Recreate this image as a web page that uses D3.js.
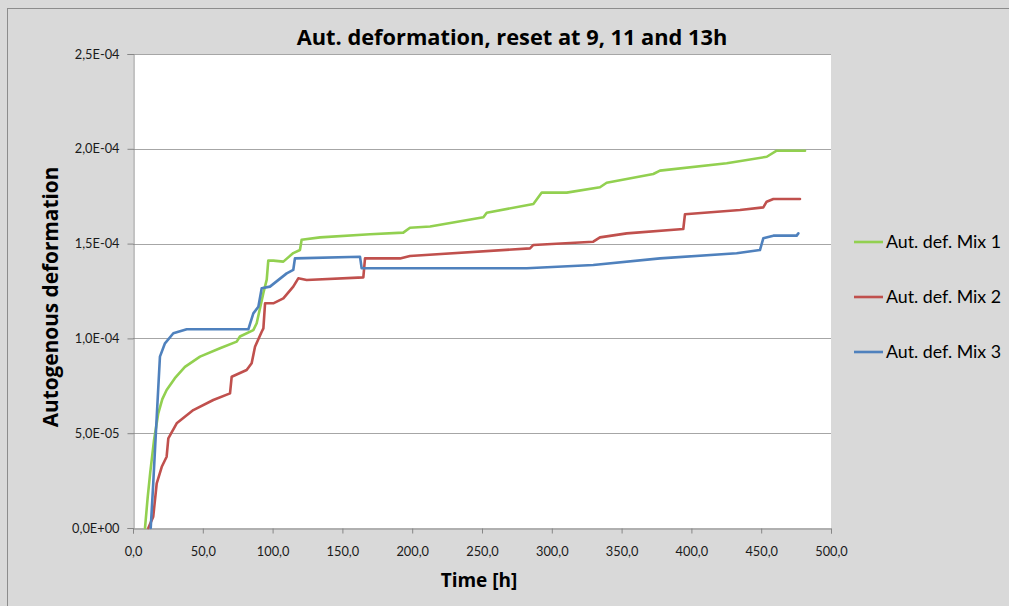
<!DOCTYPE html>
<html><head><meta charset="utf-8">
<script src="https://cdn.jsdelivr.net/npm/d3@7"></script>
<style>body{margin:0;background:#d9d9d9;} svg{display:block;}</style>
</head><body>
<svg id="chart" width="1009" height="606"></svg>
<script>
// ---- data (values in units of 1e-5) ----
const UNIT = 1e-5;
const seriesNames = ["Aut. def. Mix 1", "Aut. def. Mix 2", "Aut. def. Mix 3"];
const xTicks = [0, 50, 100, 150, 200, 250, 300, 350, 400, 450, 500];
const yTicks = [0, 5e-5, 1e-4, 1.5e-4, 2e-4, 2.5e-4];

const mix1T = [8.6, 10.5, 12.3, 15, 18.1, 21, 24.1, 30, 37.2, 48, 62.3, 74.3, 76.6, 86.2, 88.6, 93.4, 95.8, 96.9, 100.5, 107.7, 114.8, 119.6, 120.8, 134, 169.8, 193.6, 198.4, 212.8, 251, 253.4, 286.8, 292.8, 310.7, 334.5, 339.3, 372.7, 377.5, 425.3, 454, 461.1, 481.4];
const mix1V = [0, 1.6, 2.9, 4.6, 6.05, 6.8, 7.28, 7.9, 8.5, 9.04, 9.48, 9.83, 10.1, 10.44, 10.8, 12.4, 13.1, 14.1, 14.1, 14.05, 14.5, 14.66, 15.2, 15.33, 15.49, 15.58, 15.84, 15.9, 16.39, 16.63, 17.09, 17.69, 17.69, 17.97, 18.21, 18.67, 18.85, 19.24, 19.58, 19.9, 19.9];

const mix2T = [11, 14.5, 17, 20.6, 24.1, 25.3, 31.3, 43.2, 57.5, 69.5, 70.7, 81.4, 85, 87.4, 92.2, 93.4, 94.6, 100.5, 107.7, 114.8, 118.4, 124.4, 165, 166.2, 191.3, 198.4, 284.4, 286.8, 329.7, 334.5, 353.7, 394.2, 395.4, 434.8, 451.5, 453.9, 458.7, 477.8];
const mix2V = [0, 0.6, 2.36, 3.23, 3.76, 4.73, 5.52, 6.22, 6.75, 7.1, 7.98, 8.33, 8.69, 9.56, 10.35, 10.53, 11.85, 11.85, 12.11, 12.73, 13.17, 13.08, 13.22, 14.22, 14.22, 14.35, 14.75, 14.93, 15.1, 15.33, 15.54, 15.77, 16.55, 16.77, 16.91, 17.21, 17.35, 17.35];

const mix3T = [12.7, 14.5, 17, 19.3, 22.9, 28.9, 38.5, 82.6, 86.2, 89.8, 92.2, 98.1, 110.1, 114.8, 116, 162.6, 163.8, 282, 329.7, 377.5, 432.4, 449.1, 451.5, 458.7, 475.4, 476.6];
const mix3V = [0, 2.36, 5.87, 9.04, 9.74, 10.27, 10.48, 10.48, 11.32, 11.67, 12.64, 12.73, 13.43, 13.61, 14.22, 14.31, 13.7, 13.7, 13.87, 14.22, 14.49, 14.66, 15.28, 15.42, 15.42, 15.54];

const colors = ["#92d050", "#c0504d", "#4f81bd"];

// ---- layout ----
const svg = d3.select("#chart");
const L = 133, R = 831, T = 54, B = 528;
const FONT = "Lato, 'Open Sans', sans-serif";
const TFONT = "'Open Sans', Lato, sans-serif";

svg.append("rect").attr("x", 7.5).attr("y", 8.5).attr("width", 1020).attr("height", 620)
  .attr("fill", "#d9d9d9").attr("stroke", "#8c8c8c").attr("stroke-width", 1);

const x = d3.scaleLinear().domain([0, 500]).range([L, R]);
const y = d3.scaleLinear().domain([0, 2.5e-4]).range([B, T]);

svg.append("rect").attr("x", L).attr("y", T).attr("width", R - L).attr("height", B - T).attr("fill", "#ffffff");

// gridlines
svg.append("g").selectAll("line").data(yTicks.slice(1)).join("line")
  .attr("x1", L).attr("x2", R)
  .attr("y1", d => Math.round(y(d)) + 0.5).attr("y2", d => Math.round(y(d)) + 0.5)
  .attr("stroke", "#a6a6a6").attr("stroke-width", 1);

function fmtY(v) {
  const s = v.toExponential(1);
  const [m, e] = s.split("e");
  const ev = parseInt(e, 10);
  const es = (ev < 0 ? "-" : "+") + String(Math.abs(ev)).padStart(2, "0");
  return m.replace(".", ",") + "E" + es;
}
const fmtX = d => d.toFixed(1).replace(".", ",");

const yAxis = svg.append("g").attr("transform", `translate(${L + 0.5},0)`)
  .call(d3.axisLeft(y).tickValues(yTicks).tickFormat(fmtY).tickSizeOuter(0).tickSize(6).tickPadding(8));
const xAxis = svg.append("g").attr("transform", `translate(0,${B + 0.5})`)
  .call(d3.axisBottom(x).tickValues(xTicks).tickFormat(fmtX).tickSizeOuter(0).tickSize(5).tickPadding(13));
[yAxis, xAxis].forEach(a => {
  a.select(".domain").attr("stroke", "#868686");
  a.selectAll(".tick line").attr("stroke", "#868686");
  a.selectAll("text").attr("fill", "#1a1a1a").style("font-family", FONT).style("font-size", "12.8px");
});

// lines
const series = [
  { t: mix1T, v: mix1V },
  { t: mix2T, v: mix2V },
  { t: mix3T, v: mix3V }
];
const line = d3.line().x(d => x(d[0])).y(d => y(d[1] * UNIT));
series.forEach((s, i) => {
  const pts = s.t.map((t, k) => [t, s.v[k]]);
  svg.append("path").datum(pts).attr("d", line)
    .attr("fill", "none").attr("stroke", colors[i]).attr("stroke-width", 2.6)
    .attr("stroke-linejoin", "round").attr("stroke-linecap", "round");
});

// titles
svg.append("text").attr("x", 512).attr("y", 45).attr("text-anchor", "middle")
  .style("font-family", TFONT).style("font-weight", "bold").style("font-size", "21.8px").attr("fill", "#000")
  .text("Aut. deformation, reset at 9, 11 and 13h");
svg.append("text").attr("transform", "translate(58,297) rotate(-90)").attr("text-anchor", "middle")
  .style("font-family", TFONT).style("font-weight", "bold").style("font-size", "20.8px").attr("fill", "#000")
  .text("Autogenous deformation");
svg.append("text").attr("x", 479).attr("y", 587).attr("text-anchor", "middle")
  .style("font-family", TFONT).style("font-weight", "bold").style("font-size", "19px").attr("fill", "#000")
  .text("Time [h]");

// legend
const legY = [242, 297, 352];
const leg = svg.append("g");
seriesNames.forEach((n, i) => {
  leg.append("line").attr("x1", 854).attr("x2", 883).attr("y1", legY[i]).attr("y2", legY[i])
    .attr("stroke", colors[i]).attr("stroke-width", 2.6);
  leg.append("text").attr("x", 886).attr("y", legY[i] + 5.5)
    .style("font-family", FONT).style("font-size", "17.8px").attr("fill", "#000").text(n);
});
</script>
</body></html>
